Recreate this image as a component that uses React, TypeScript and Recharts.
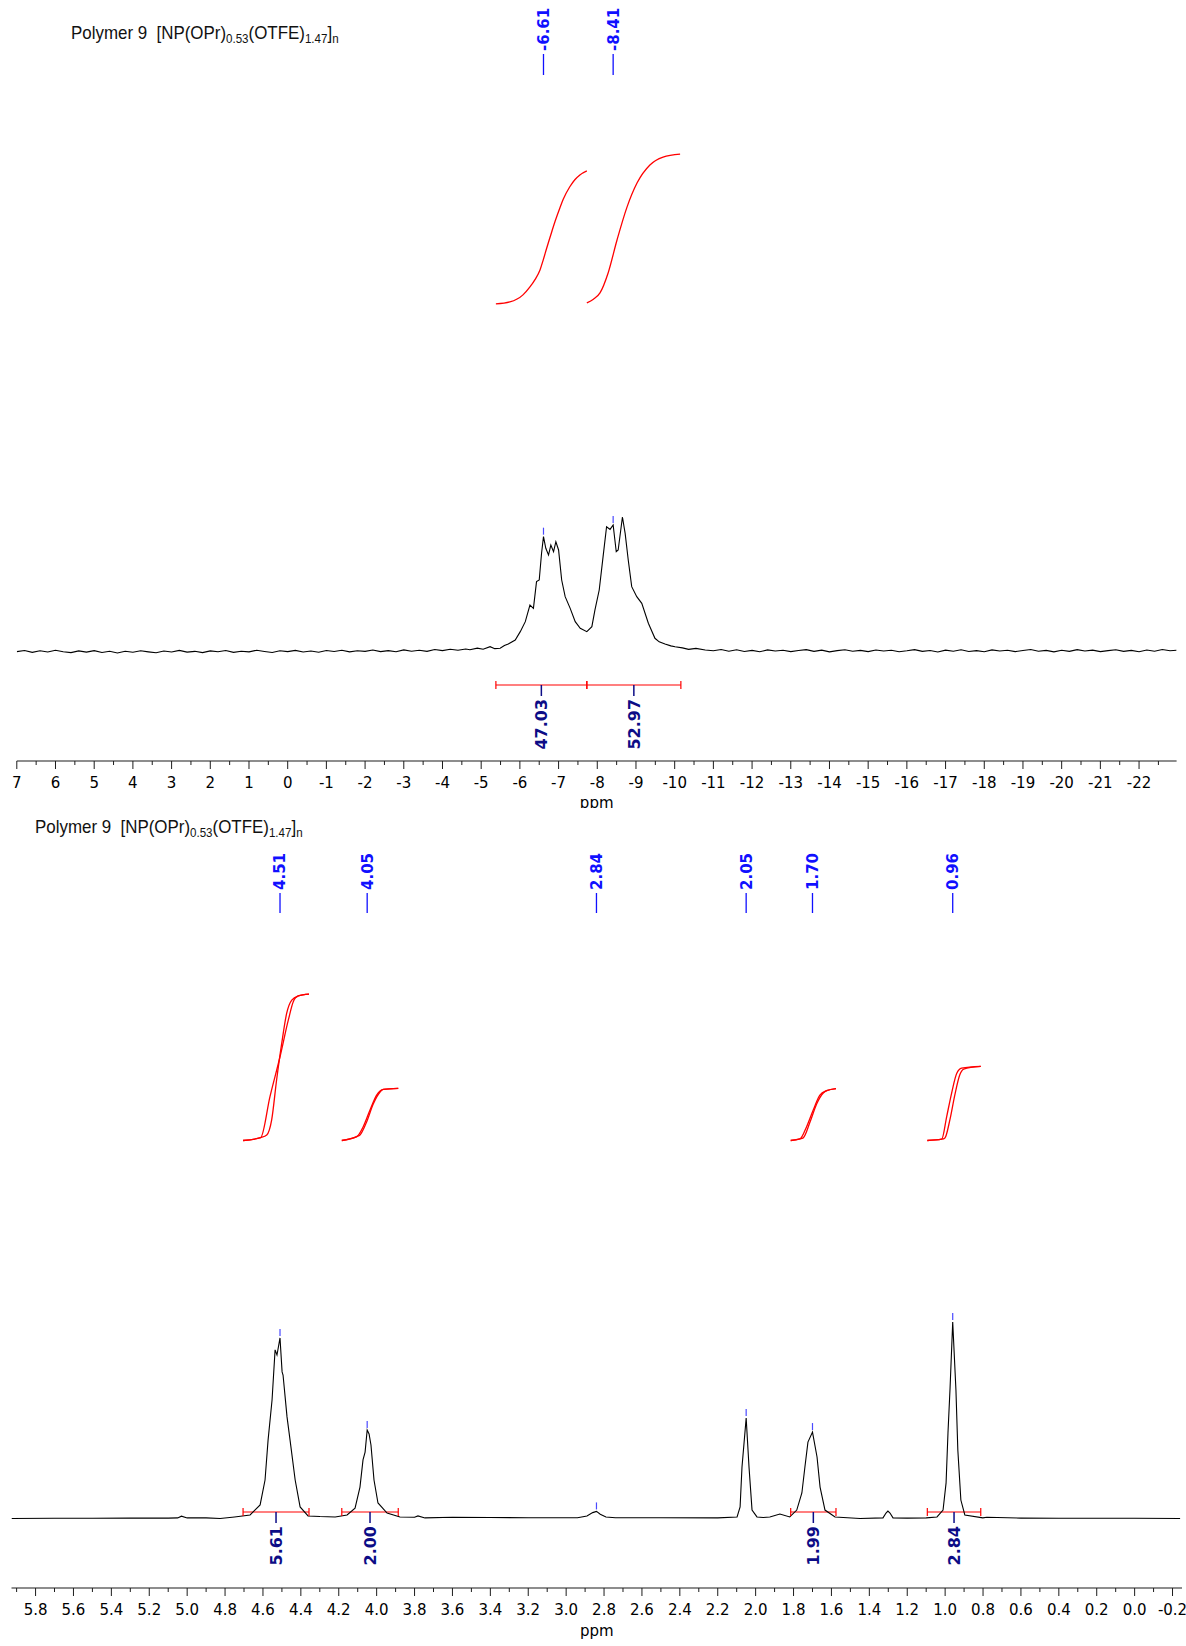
import React from 'react';
import { ComposedChart, Line, Scatter, XAxis, YAxis } from 'recharts';

type Pt = [number, number];

// ---------------- 31P panel (top) ----------------
const pMajorTicks = [7, 6, 5, 4, 3, 2, 1, 0, -1, -2, -3, -4, -5, -6, -7, -8, -9, -10, -11, -12, -13, -14, -15, -16, -17, -18, -19, -20, -21, -22];
const pPeaks: Pt[] = [[-6.61, 85.2], [-8.41, 94.0]];
const pIntegralRanges: Pt[] = [[-5.38, -7.73], [-7.73, -10.16]];
const pIntegralValues = [47.03, 52.97];

const pSpectrum: Pt[] = [
  [7.0, -1.2], [6.8, -0.4], [6.6, -1.8], [6.4, -0.6], [6.2, -1.5], [6.0, -0.2], [5.8, -1.3], [5.6, -2.0],
  [5.4, -0.7], [5.2, -1.6], [5.0, -0.5], [4.8, -1.9], [4.6, -1.0], [4.4, -2.2], [4.2, -0.9], [4.0, -1.7],
  [3.8, -0.6], [3.6, -1.4], [3.4, -2.1], [3.2, -0.8], [3.0, -1.5], [2.8, -0.3], [2.6, -1.6], [2.4, -1.0],
  [2.2, -2.0], [2.0, -0.7], [1.8, -1.3], [1.6, -0.4], [1.4, -1.8], [1.2, -0.9], [1.0, -1.4], [0.8, -0.2],
  [0.6, -1.1], [0.4, -1.9], [0.2, -0.6], [0.0, -1.2], [-0.2, -0.3], [-0.4, -1.5], [-0.6, -0.8], [-0.8, -1.7],
  [-1.0, -0.4], [-1.2, -1.1], [-1.4, -0.2], [-1.6, -1.4], [-1.8, -0.6], [-2.0, -1.0], [-2.2, 0.0], [-2.4, -1.2],
  [-2.6, -0.5], [-2.8, -1.3], [-3.0, 0.1], [-3.2, -0.9], [-3.4, -0.2], [-3.6, -1.0], [-3.8, 0.4], [-4.0, -0.5],
  [-4.2, 0.6], [-4.4, -0.2], [-4.6, 0.8], [-4.71, 0.2], [-4.9, 1.4], [-5.05, 0.6], [-5.23, 2.5], [-5.35, 1.0],
  [-5.49, 1.3], [-5.6, 3.4], [-5.7, 4.5], [-5.88, 7.5], [-6.01, 13.8], [-6.14, 21.3], [-6.26, 33.8], [-6.35, 31.3],
  [-6.43, 51.4], [-6.5, 52.6], [-6.56, 72.7], [-6.61, 85.2], [-6.67, 76.5], [-6.74, 71.4], [-6.8, 78.9], [-6.87, 73.9],
  [-6.93, 81.4], [-7.0, 75.2], [-7.08, 52.6], [-7.17, 40.1], [-7.3, 31.3], [-7.43, 21.3], [-7.56, 16.3], [-7.73, 13.8],
  [-7.86, 17.5], [-7.94, 30.1], [-8.05, 45.1], [-8.15, 70.2], [-8.24, 92.7], [-8.33, 90.7], [-8.41, 94.0], [-8.49, 73.9],
  [-8.54, 75.2], [-8.65, 100.0], [-8.72, 87.7], [-8.8, 67.7], [-8.89, 47.6], [-9.02, 40.1], [-9.15, 35.1], [-9.32, 20.1],
  [-9.49, 8.8], [-9.6, 6.1], [-9.75, 4.5], [-9.9, 3.1], [-10.01, 2.5], [-10.2, 1.6], [-10.36, 0.5], [-10.55, 1.2],
  [-10.79, 0.0], [-11.0, -0.6], [-11.2, 0.4], [-11.4, -0.9], [-11.6, 0.2], [-11.8, -1.1], [-12.0, -0.3], [-12.2, -1.3],
  [-12.4, 0.1], [-12.6, -0.8], [-12.8, -0.2], [-13.0, -1.2], [-13.2, -0.4], [-13.4, 0.3], [-13.6, -1.0], [-13.8, -0.1],
  [-14.0, -1.4], [-14.2, -0.5], [-14.4, 0.2], [-14.6, -0.9], [-14.8, -0.3], [-15.0, -1.2], [-15.2, 0.0], [-15.4, -0.8],
  [-15.6, -0.2], [-15.8, -1.3], [-16.0, -0.6], [-16.2, 0.3], [-16.4, -1.0], [-16.6, -0.4], [-16.8, -1.5], [-17.0, -0.1],
  [-17.2, -0.9], [-17.4, 0.2], [-17.6, -1.1], [-17.8, -0.5], [-18.0, -1.3], [-18.2, 0.1], [-18.4, -0.7], [-18.6, -0.2],
  [-18.8, -1.2], [-19.0, -0.4], [-19.2, 0.4], [-19.4, -0.9], [-19.6, -0.3], [-19.8, -1.4], [-20.0, -0.2], [-20.2, -1.0],
  [-20.4, 0.3], [-20.6, -0.8], [-20.8, -0.1], [-21.0, -1.2], [-21.2, -0.5], [-21.4, 0.2], [-21.6, -1.0], [-21.8, -0.3],
  [-22.0, -1.3], [-22.2, 0.0], [-22.4, -0.9], [-22.6, 0.4], [-22.8, -0.6], [-22.97, -0.2],
];

const pIntegralCurveA: Pt[] = [
  [-5.38, 0], [-5.74, 0.7], [-6.08, 3.2], [-6.26, 6.0], [-6.39, 8.6], [-6.52, 12.0], [-6.6, 15.4], [-6.69, 19.6],
  [-6.83, 25.8], [-6.91, 29.2], [-7.04, 34.2], [-7.12, 37.0], [-7.29, 41.4], [-7.42, 43.9], [-7.55, 45.6], [-7.73, 47.03],
];
const pIntegralCurveB: Pt[] = [
  [-7.73, 0.35], [-7.9, 1.66], [-8.07, 3.9], [-8.28, 10.95], [-8.51, 22.6], [-8.77, 34.3], [-9.03, 42.8],
  [-9.36, 49.1], [-9.7, 51.9], [-10.14, 52.97],
];

// ---------------- 1H panel (bottom) ----------------
const hMajorTicks = [5.8, 5.6, 5.4, 5.2, 5.0, 4.8, 4.6, 4.4, 4.2, 4.0, 3.8, 3.6, 3.4, 3.2, 3.0, 2.8, 2.6, 2.4, 2.2, 2.0, 1.8, 1.6, 1.4, 1.2, 1.0, 0.8, 0.6, 0.4, 0.2, 0.0, -0.2];
const hPeaks: Pt[] = [[4.51, 91.9], [4.05, 45.0], [2.84, 3.6], [2.05, 51.1], [1.70, 44.0], [0.96, 100.0]];
const hIntegralRanges: Pt[] = [[4.705, 4.357], [4.184, 3.886], [1.815, 1.576], [1.094, 0.812]];
const hIntegralValues = [5.61, 2.0, 1.99, 2.84];

const hSpectrum: Pt[] = [
  [5.927, 0.0], [5.7, 0.1], [5.5, 0.1], [5.3, 0.2], [5.1, 0.2], [5.05, 0.3], [5.03, 1.2], [5.0, 0.3], [4.9, 0.3],
  [4.826, 0.0], [4.75, 0.8], [4.668, 1.8], [4.615, 6.9], [4.589, 19.6], [4.573, 39.9], [4.552, 60.3], [4.536, 85.8],
  [4.526, 83.2], [4.51, 91.9], [4.499, 74.6], [4.494, 73.0], [4.473, 51.7], [4.457, 39.9], [4.43, 19.6], [4.404, 5.9],
  [4.362, 1.3], [4.299, 1.0], [4.219, 0.8], [4.156, 1.8], [4.114, 5.3], [4.088, 16.0], [4.072, 29.8], [4.061, 33.8],
  [4.05, 45.0], [4.04, 43.0], [4.03, 37.4], [4.014, 19.6], [3.993, 7.9], [3.945, 2.8], [3.877, 0.8], [3.8, 0.6],
  [3.782, 1.3], [3.745, 0.3], [3.6, 0.6], [3.4, 0.5], [3.2, 0.4], [3.0, 0.4], [2.94, 0.4], [2.89, 1.3], [2.86, 3.0],
  [2.84, 3.6], [2.82, 2.2], [2.79, 0.8], [2.74, 0.4], [2.5, 0.4], [2.2, 0.3], [2.098, 0.8], [2.082, 5.9], [2.072, 26.2],
  [2.05, 51.1], [2.035, 26.2], [2.019, 4.3], [1.993, 0.8], [1.96, 0.5], [1.925, 0.8], [1.872, 2.3], [1.82, 0.8],
  [1.783, 4.3], [1.756, 13.0], [1.74, 26.2], [1.724, 38.9], [1.7, 44.0], [1.676, 31.3], [1.66, 16.0], [1.634, 4.3],
  [1.581, 0.8], [1.449, 0.0], [1.328, 0.3], [1.312, 2.8], [1.302, 3.8], [1.291, 2.8], [1.275, 0.3], [1.2, 0.2],
  [1.1, 0.3], [1.043, 0.8], [1.011, 4.3], [0.995, 18.1], [0.985, 43.5], [0.974, 66.4], [0.96, 100.0], [0.943, 65.4],
  [0.933, 34.9], [0.917, 9.4], [0.896, 1.8], [0.801, 0.3], [0.78, 0.6], [0.6, 0.2], [0.4, 0.1], [0.2, 0.1], [0.0, 0.1],
  [-0.24, 0.0],
];

const hIntegralCurves: Pt[][] = [
  [[4.705, 0], [4.612, 0.11], [4.563, 1.68], [4.51, 3.21], [4.466, 4.62], [4.44, 5.32], [4.414, 5.54], [4.357, 5.61]],
  [[4.705, 0], [4.612, 0.11], [4.58, 0.21], [4.554, 0.79], [4.528, 2.32], [4.501, 3.72], [4.475, 4.87], [4.448, 5.38], [4.414, 5.54], [4.357, 5.61]],
  [[4.184, 0], [4.105, 0.15], [4.071, 0.53], [4.035, 1.17], [4.0, 1.74], [3.965, 1.96], [3.886, 2.0]],
  [[4.184, 0], [4.105, 0.15], [4.088, 0.21], [4.053, 0.71], [4.018, 1.4], [3.982, 1.86], [3.965, 1.96], [3.886, 2.0]],
  [[1.815, 0], [1.766, 0.06], [1.731, 0.53], [1.696, 1.17], [1.661, 1.74], [1.625, 1.91], [1.576, 1.99]],
  [[1.815, 0], [1.766, 0.06], [1.749, 0.1], [1.713, 0.71], [1.678, 1.4], [1.643, 1.82], [1.625, 1.91], [1.576, 1.99]],
  [[1.094, 0], [1.018, 0.05], [0.992, 0.91], [0.966, 1.81], [0.939, 2.57], [0.913, 2.77], [0.812, 2.84]],
  [[1.094, 0], [1.018, 0.05], [1.001, 0.1], [0.975, 0.79], [0.949, 1.74], [0.923, 2.51], [0.902, 2.74], [0.812, 2.84]],
];

const INK = '#000';
const AXIS_COLOR = '#1c1c1c';
const RED = '#ff0000';
const PEAK_BLUE = '#1010ff';
const NAVY = '#0c0c86';
const FONT = '"DejaVu Sans", Verdana, sans-serif';

const toXY = (pts: Pt[]) => pts.map(([x, y]) => ({ x, y }));

function minorTicks(majors: number[], lead: boolean) {
  const step = majors[0] - majors[1];
  const mids = majors.slice(0, -1).map((m, i) => (m + majors[i + 1]) / 2);
  const out = [...mids, majors[majors.length - 1] - step / 2];
  return lead ? [majors[0] + step / 2, ...out] : out;
}

function makeAxisTick(majors: number[], fmt: (v: number) => string) {
  return (props: any) => {
    const { x, y, payload } = props;
    const v = payload.value as number;
    const major = majors.some((m) => Math.abs(m - v) < 1e-6);
    return (
      <g>
        <line x1={x} x2={x} y1={y} y2={y + (major ? 8 : 4)} stroke={AXIS_COLOR} strokeWidth={1} />
        {major && (
          <text x={x} y={y + 27} textAnchor="middle" fontFamily={FONT} fontSize={15} fill={INK}>
            {fmt(v)}
          </text>
        )}
      </g>
    );
  };
}

// peak labels sit in the header strip of each panel, at the peak's ppm
function makePeakLabel(textY: number, lineTop: number, lineBottom: number) {
  return (props: any) => {
    const { cx, cy, payload } = props;
    return (
      <g>
        <line x1={cx} x2={cx} y1={lineTop} y2={lineBottom} stroke={PEAK_BLUE} strokeWidth={1.3} />
        <text
          transform={`translate(${cx},${textY}) rotate(-90)`}
          dy="0.36em"
          textAnchor="start"
          fontFamily={FONT}
          fontWeight="bold"
          fontSize={15}
          fill={PEAK_BLUE}
        >
          {(payload.x as number).toFixed(2)}
        </text>
        <line x1={cx} x2={cx} y1={cy - 9} y2={cy - 2} stroke="#4a4aff" strokeWidth={1.2} />
      </g>
    );
  };
}

const BarCap = (props: any) => {
  const { cx, cy } = props;
  return <line x1={cx} x2={cx} y1={cy - 4} y2={cy + 4} stroke={RED} strokeWidth={1.2} />;
};

const IntegralLabel = (props: any) => {
  const { cx, cy, payload } = props;
  return (
    <g>
      <line x1={cx} x2={cx} y1={cy} y2={cy + 11} stroke={NAVY} strokeWidth={1.5} />
      <text
        transform={`translate(${cx},${cy + 14}) rotate(-90)`}
        dy="0.36em"
        textAnchor="end"
        fontFamily={FONT}
        fontWeight="bold"
        fontSize={16}
        fill={NAVY}
      >
        {payload.label}
      </text>
    </g>
  );
};

function Title({ left, top }: { left: number; top: number }) {
  const sub: React.CSSProperties = { fontSize: 13, verticalAlign: -4 };
  return (
    <div
      style={{
        position: 'absolute',
        left,
        top,
        fontFamily: '"Liberation Sans", Arial, sans-serif',
        fontSize: 19,
        lineHeight: '24px',
        whiteSpace: 'pre',
        color: '#111',
        transform: 'scaleX(0.89)',
        transformOrigin: 'left center',
      }}
    >
      {'Polymer 9  [NP(OPr)'}
      <span style={sub}>0.53</span>
      {'(OTFE)'}
      <span style={sub}>1.47</span>
      {']'}
      <span style={sub}>n</span>
    </div>
  );
}

interface PanelProps {
  height: number;
  margin: { top: number; right: number; bottom: number; left: number };
  axisHeight: number;
  xDomain: [number, number];
  sigDomain: [number, number];
  intDomain: [number, number];
  majors: number[];
  minors: number[];
  fmt: (v: number) => string;
  spectrum: Pt[];
  curves: Pt[][];
  peaks: Pt[];
  ranges: Pt[];
  values: number[];
  barY: number;
  peakText: [number, number, number];
}

function Panel(p: PanelProps) {
  const bars = p.ranges.map(([a, b]) => toXY([[a, p.barY], [b, p.barY]]));
  const caps = p.ranges.flatMap(([a, b]) => toXY([[a, p.barY], [b, p.barY]]));
  const labels = p.ranges.map(([a, b], i) => ({ x: (a + b) / 2, y: p.barY, label: p.values[i].toFixed(2) }));
  const ticks = [...p.majors, ...p.minors].sort((a, b) => b - a);
  return (
    <ComposedChart width={1186} height={p.height} margin={p.margin}>
      <XAxis
        xAxisId="ppm"
        type="number"
        dataKey="x"
        domain={p.xDomain}
        reversed
        allowDataOverflow
        ticks={ticks}
        interval={0}
        height={p.axisHeight}
        tickLine={false}
        tickSize={0}
        tickMargin={0}
        axisLine={{ stroke: AXIS_COLOR, strokeWidth: 1.2 }}
        tick={makeAxisTick(p.majors, p.fmt)}
        label={{ value: 'ppm', position: 'insideBottom', offset: 0, fill: INK, fontSize: 15, fontFamily: FONT }}
      />
      <YAxis yAxisId="sig" type="number" dataKey="y" domain={p.sigDomain} allowDataOverflow hide />
      <YAxis yAxisId="int" type="number" dataKey="y" domain={p.intDomain} allowDataOverflow hide />

      {p.curves.map((c, i) => (
        <Line
          key={`int${i}`}
          xAxisId="ppm"
          yAxisId="int"
          data={toXY(c)}
          dataKey="y"
          type="monotone"
          dot={false}
          activeDot={false}
          stroke={RED}
          strokeWidth={1.3}
          isAnimationActive={false}
        />
      ))}
      {bars.map((b, i) => (
        <Line
          key={`bar${i}`}
          xAxisId="ppm"
          yAxisId="sig"
          data={b}
          dataKey="y"
          type="linear"
          dot={false}
          activeDot={false}
          stroke={RED}
          strokeWidth={1.2}
          isAnimationActive={false}
        />
      ))}
      <Line
        xAxisId="ppm"
        yAxisId="sig"
        data={toXY(p.spectrum)}
        dataKey="y"
        type="linear"
        dot={false}
        activeDot={false}
        stroke={INK}
        strokeWidth={1.1}
        isAnimationActive={false}
      />
      <Scatter xAxisId="ppm" yAxisId="sig" data={caps} shape={BarCap} isAnimationActive={false} />
      <Scatter xAxisId="ppm" yAxisId="sig" data={labels} shape={IntegralLabel} isAnimationActive={false} />
      <Scatter
        xAxisId="ppm"
        yAxisId="sig"
        data={toXY(p.peaks)}
        shape={makePeakLabel(p.peakText[0], p.peakText[1], p.peakText[2])}
        isAnimationActive={false}
      />
    </ComposedChart>
  );
}

export default function App() {
  return (
    <div style={{ position: 'absolute', left: 0, top: 0, width: 1186, height: 1646, background: '#fff', overflow: 'hidden' }}>
      <div style={{ position: 'absolute', left: 0, top: 0 }}>
        <Panel
          height={808}
          margin={{ top: 0, right: 9.4, bottom: 0, left: 16.8 }}
          axisHeight={47}
          xDomain={[-22.97, 7]}
          sigDomain={[-83.46, 488.72]}
          intDomain={[-161.5, 107.4]}
          majors={pMajorTicks}
          minors={minorTicks(pMajorTicks, false)}
          fmt={(v) => String(v)}
          spectrum={pSpectrum}
          curves={[pIntegralCurveA, pIntegralCurveB]}
          peaks={pPeaks}
          ranges={pIntegralRanges}
          values={pIntegralValues}
          barY={-26.3}
          peakText={[51, 54, 75]}
        />
      </div>
      <div style={{ position: 'absolute', left: 0, top: 812 }}>
        <Panel
          height={834}
          margin={{ top: 0, right: 4, bottom: 10, left: 11.5 }}
          axisHeight={48}
          xDomain={[-0.25, 5.927]}
          sigDomain={[-35.37, 359.54]}
          intDomain={[-17.15, 12.59]}
          majors={hMajorTicks}
          minors={minorTicks(hMajorTicks, true).filter((t) => t > -0.25)}
          fmt={(v) => v.toFixed(1)}
          spectrum={hSpectrum}
          curves={hIntegralCurves}
          peaks={hPeaks}
          ranges={hIntegralRanges}
          values={hIntegralValues}
          barY={3.3}
          peakText={[78, 81, 101]}
        />
      </div>
      <Title left={71} top={21} />
      <Title left={35} top={815} />
    </div>
  );
}
